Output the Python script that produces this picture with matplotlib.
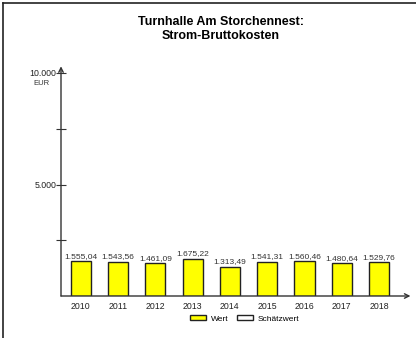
import matplotlib.pyplot as plt
from matplotlib.lines import Line2D
from matplotlib.patches import Patch

plt.rcParams['font.family'] = ['Liberation Sans', 'DejaVu Sans']

# Data
years = ['2010', '2011', '2012', '2013', '2014', '2015', '2016', '2017', '2018']
values = [1555.04, 1543.56, 1461.09, 1675.22, 1313.49, 1541.31, 1560.46, 1480.64, 1529.76]
yticks_major = [5000, 10000]
yticks_minor = [2500, 7500]


def de_format(v, decimals=2):
    s = f'{v:,.{decimals}f}'
    return s.replace(',', 'X').replace('.', ',').replace('X', '.')


W, H = 416, 338
fig = plt.figure(figsize=(W / 100, H / 100), dpi=100)

# axes placed in pixel terms
left, right, bottom, top = 61, 405, 296, 73
ax = fig.add_axes([left / W, (H - bottom) / H, (right - left) / W, (bottom - top) / H])

x = list(range(len(years)))
ax.bar(x, values, width=0.54, color='#ffff00', edgecolor='#222222', linewidth=1.0, zorder=3)

for xi, v in zip(x, values):
    ax.text(xi, v + 60, de_format(v), ha='center', va='bottom', fontsize=6.0, color='#333333')

ax.set_xlim(-0.528, 8.694)
ax.set_ylim(0, 10000)

for s in ['top', 'right', 'left', 'bottom']:
    ax.spines[s].set_visible(False)

# axis lines with open arrow heads
ax.annotate('', xy=(-0.528, 10300), xytext=(-0.528, 0), xycoords='data',
            arrowprops=dict(arrowstyle='->', color='#333333', lw=1.0, shrinkA=0, shrinkB=0,
                            mutation_scale=8), annotation_clip=False)
ax.annotate('', xy=(8.84, 0), xytext=(-0.528, 0), xycoords='data',
            arrowprops=dict(arrowstyle='->', color='#333333', lw=1.0, shrinkA=0, shrinkB=0,
                            mutation_scale=8), annotation_clip=False)

ax.set_xticks(x)
ax.set_xticklabels(years, fontsize=6.3, color='#222222')
ax.tick_params(axis='x', length=0, pad=4)

ax.set_yticks(yticks_major)
ax.set_yticklabels([de_format(t, 0) for t in yticks_major], fontsize=6.3, color='#222222')
ax.set_yticks(yticks_minor, minor=True)
ax.tick_params(axis='y', which='both', direction='inout', length=7, width=0.8,
               color='#333333', pad=0)
ax.text(50 / W, 1 - 84 / H, 'EUR', transform=fig.transFigure, ha='right', va='center',
        fontsize=5.5, color='#333333')

fig.text(221 / W, 1 - 29 / H, 'Turnhalle Am Storchennest:\nStrom-Bruttokosten',
         ha='center', va='center', fontsize=9, fontweight='bold', linespacing=1.15)

handles = [Patch(facecolor='#ffff00', edgecolor='#222222', linewidth=1.0),
           Patch(facecolor='white', edgecolor='#222222', linewidth=1.0)]
fig.legend(handles, ['Wert', 'Schätzwert'], loc='center', bbox_to_anchor=(245 / W, 1 - 319 / H),
           ncol=2, frameon=False, fontsize=6.0, handlelength=1.9, handleheight=0.55,
           columnspacing=1.0, handletextpad=0.6)

# outer frame (left and top edges visible)
fig.add_artist(Line2D([3 / W, 3 / W], [0, 1 - 3 / H], color='#222222', lw=1.2))
fig.add_artist(Line2D([3 / W, 1], [1 - 3 / H, 1 - 3 / H], color='#222222', lw=1.2))

fig.savefig('out.png', dpi=100)
